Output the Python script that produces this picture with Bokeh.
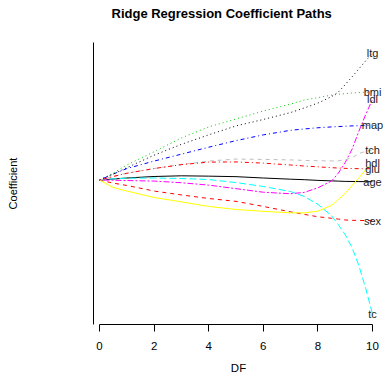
from bokeh.plotting import figure
from bokeh.models import ColumnDataSource, FixedTicker, Range1d
from bokeh.core.properties import value
from bokeh.embed import file_html
from bokeh.resources import INLINE

FONT = "Liberation Sans"

# Degrees of freedom grid
df = [0, 0.5, 1, 2, 3, 4, 5, 6, 7, 7.5, 8, 8.5, 8.75, 9, 9.25, 9.5, 9.75, 10]

# Coefficient paths
age = [0, 6, 12, 21, 25, 23, 20, 12, 5, 2, -2, -5, -6.5, -8, -8.5, -9, -9.5, -10]
sex = [0, -18, -32, -65, -88, -109, -126, -156, -188, -203, -217, -226, -231, -236, -238, -239, -239.5, -239.8]
bmi = [0, 41, 89, 167, 249, 314, 361, 408, 449, 473, 487, 502, 507, 511, 514.5, 517, 519, 519.8]
map_ = [0, 35, 68, 112, 153, 194, 233, 267, 294, 302, 309, 314, 316, 318, 320, 321, 323, 324.4]
tc = [0, 7, 11, 12, 9, 3, -15, -38, -68, -97, -144, -211, -264, -323, -399, -505, -640, -792.2]
ldl = [0, -1, -3, -6, -16, -30, -51, -72, -81, -73, -46, -6, 41, 103, 182, 288, 387, 476.7]
hdl = [0, -44, -65, -103, -129, -156, -174, -185, -194, -194, -184, -150, -115, -78, -33, 13, 60, 101.0]
tch = [0, 21, 40, 68, 92, 112, 124, 122, 119, 116, 114, 113, 114, 120, 132, 156, 170, 177.1]
ltg = [0, 35, 73, 147, 211, 267, 320, 358, 399, 426, 455, 493, 520, 564, 610, 657, 704, 751.3]
glu = [0, 21, 40, 68, 91, 106, 107, 100, 89, 83, 78, 73, 71, 69, 68, 67, 67, 67.6]

names = ["age", "sex", "bmi", "map", "tc", "ldl", "hdl", "tch", "ltg", "glu"]
series = [age, sex, bmi, map_, tc, ldl, hdl, tch, ltg, glu]
colors = ["black", "red", "#00CD00", "blue", "cyan", "magenta", "yellow", "#BEBEBE", "black", "red"]
dashes = ["solid", "4 4", "1 3", "1 3 4 3", "7 3", "2 2 6 2", "solid", "4 4", "1 3", "1 3 4 3"]

xticks = [0, 2, 4, 6, 8, 10]

p = figure(width=383, height=376, output_backend="svg", toolbar_location=None,
           x_range=Range1d(-0.22, 10.403), y_range=Range1d(-853.9, 813.0),
           min_border_left=93, min_border_right=0, min_border_top=40, min_border_bottom=52)

p.background_fill_color = "white"
p.border_fill_color = "white"
p.outline_line_color = None
p.xgrid.visible = False
p.ygrid.visible = False

p.title.text = "Ridge Regression Coefficient Paths\n "
p.title.text_font = FONT
p.title.text_font_size = "13px"
p.title.text_font_style = "bold"
p.title.text_color = "black"
p.title.align = "left"
p.title.offset = 18
p.title.vertical_align = "top"
p.title.standoff = 10

# x axis
p.xaxis.ticker = FixedTicker(ticks=xticks)
p.xaxis.bounds = (0, 10)
p.xaxis.major_tick_out = 7
p.xaxis.major_tick_in = 0
p.xaxis.minor_tick_line_color = None
p.xaxis.major_label_standoff = 10
p.xaxis.major_label_text_font = FONT
p.xaxis.major_label_text_font_size = "11.5px"
p.xaxis.major_label_text_color = "black"
p.xaxis.axis_label = "DF"
p.xaxis.axis_label_standoff = 9
p.xaxis.axis_label_text_font = FONT
p.xaxis.axis_label_text_font_size = "11.5px"
p.xaxis.axis_label_text_font_style = "normal"
p.xaxis.axis_label_text_color = "black"
p.xaxis.axis_line_color = "black"
p.xaxis.major_tick_line_color = "black"

# y axis: line only
p.yaxis.ticker = FixedTicker(ticks=[])
p.yaxis.major_tick_out = 0
p.yaxis.major_tick_in = 0
p.yaxis.minor_tick_line_color = None
p.yaxis.major_label_standoff = 0
p.yaxis.axis_label = "Coefficient"
p.yaxis.axis_label_standoff = 75
p.yaxis.axis_label_text_font = FONT
p.yaxis.axis_label_text_font_size = "11px"
p.yaxis.axis_label_text_font_style = "normal"
p.yaxis.axis_label_text_color = "black"
p.yaxis.axis_line_color = "black"

for s, c, d in zip(series, colors, dashes):
    p.line(x=df, y=s, line_color=c, line_dash=d, line_width=1)

lab = ColumnDataSource(dict(x=[df[-1]] * len(names), y=[s[-1] for s in series], name=names))
p.text(x="x", y="y", text="name", source=lab, text_align="center", text_baseline="middle",
       text_font=value(FONT), text_font_size=value("11px"), text_color="#222222")

open("out.html", "w").write(file_html(p, INLINE))
